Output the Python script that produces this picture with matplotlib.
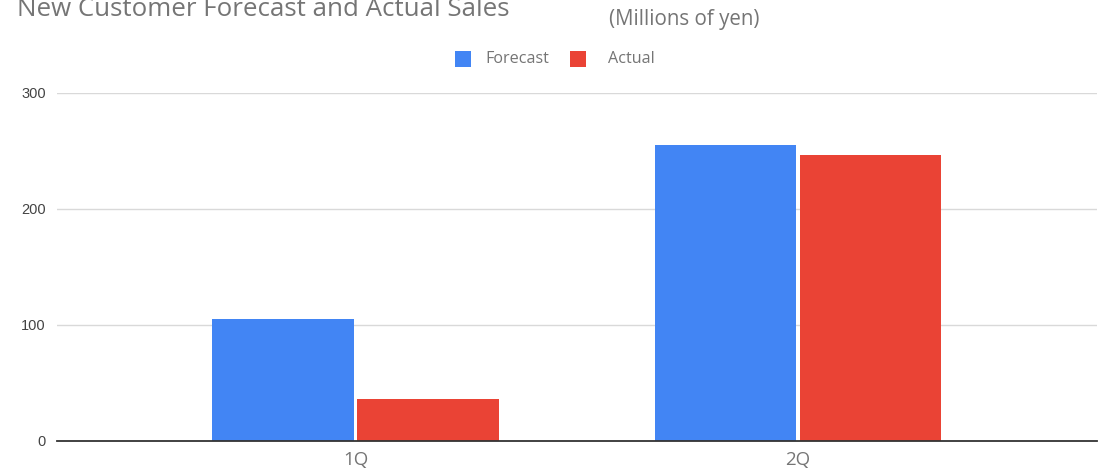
import matplotlib
matplotlib.use("Agg")
import matplotlib.pyplot as plt
import numpy as np
from matplotlib.patches import Rectangle

categories = ["1Q", "2Q"]
forecast = [105, 255]
actual = [36, 246]
series_names = ["Forecast", "Actual"]
yticks = [0, 100, 200, 300]

BLUE = "#4285F4"
RED = "#EA4335"
W, H = 1099, 468

fig = plt.figure(figsize=(W/100, H/100), dpi=100)
ax = fig.add_axes([57/W, 1 - 440.7/H, (1097-57)/W, (440.7-92.7)/H])

x = np.arange(len(categories))
w = 0.32
off = 0.1635
ax.bar(x - off, forecast, width=w, color=BLUE, zorder=3)
ax.bar(x + off, actual, width=w, color=RED, zorder=3)

ax.set_xlim(-0.6746, 1.6757)
ax.set_ylim(0, 300)
ax.set_yticks(yticks)
ax.set_yticklabels([str(v) for v in yticks], family="Liberation Sans", fontsize=10.5, color="#444444")
ax.set_xticks(x)
ax.set_xticklabels(categories, family="Open Sans", fontsize=13.5, color="#757575")
ax.tick_params(axis="y", length=0, pad=8)
ax.tick_params(axis="x", length=0, pad=7.5)
ax.grid(axis="y", color="#d9d9d9", linewidth=1, zorder=0)
for s in ["top", "right", "left"]:
    ax.spines[s].set_visible(False)
ax.spines["bottom"].set_color("#333333")
ax.spines["bottom"].set_linewidth(1.3)
ax.spines["bottom"].set_zorder(4)

fig.text(17/W, 1 - 16/H, "New Customer Forecast and Actual Sales", family="Open Sans",
         fontsize=18.6, color="#757575", ha="left", va="baseline")
fig.text(684/W, 1 - 20/H, "(Millions of yen)", family="Open Sans",
         fontsize=14.8, color="#757575", ha="center", va="center")

# legend (drawn manually to match spacing)
legend_colors = [BLUE, RED]
sq_left = [455, 570]
txt_left = [485, 608]
for name, col, sx, tx in zip(series_names, legend_colors, sq_left, txt_left):
    fig.add_artist(Rectangle((sx/W, 1 - 67/H), 16/W, 16/H, transform=fig.transFigure,
                             facecolor=col, edgecolor="none"))
    fig.text(tx/W, 1 - 59/H, name, family="Open Sans", fontsize=11.6, color="#757575",
             ha="left", va="center")

fig.savefig("out.png", dpi=100)
